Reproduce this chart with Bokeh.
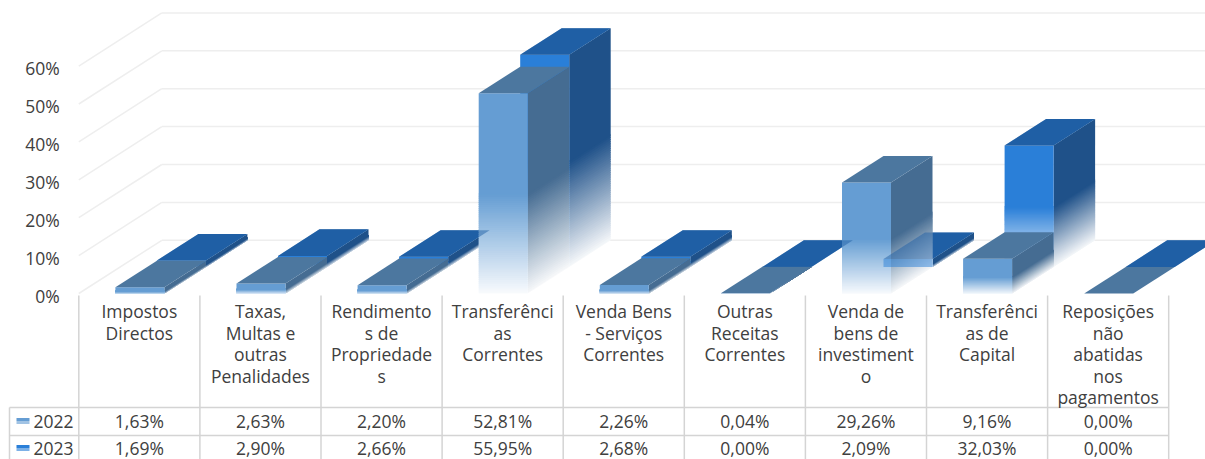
from bokeh.plotting import figure
from bokeh.models import ColumnDataSource, FixedTicker, Range1d
from bokeh.core.properties import value
from bokeh.embed import file_html
from bokeh.resources import INLINE

categories = ["Impostos\nDirectos", "Taxas,\nMultas e\noutras\nPenalidades",
              "Rendimento\ns de\nPropriedade\ns", "Transferênci\nas\nCorrentes",
              "Venda Bens\n- Serviços\nCorrentes", "Outras\nReceitas\nCorrentes",
              "Venda de\nbens de\ninvestiment\no", "Transferênci\nas de\nCapital",
              "Reposições\nnão\nabatidas\nnos\npagamentos"]
series_2022 = [1.63, 2.63, 2.20, 52.81, 2.26, 0.04, 29.26, 9.16, 0.00]
series_2023 = [1.69, 2.90, 2.66, 55.95, 2.68, 0.00, 2.09, 32.03, 0.00]
labels_2022 = ["1,63%", "2,63%", "2,20%", "52,81%", "2,26%", "0,04%", "29,26%", "9,16%", "0,00%"]
labels_2023 = ["1,69%", "2,90%", "2,66%", "55,95%", "2,68%", "0,00%", "2,09%", "32,03%", "0,00%"]
y_ticks = [0, 10, 20, 30, 40, 50, 60]
y_tick_labels = ["0%", "10%", "20%", "30%", "40%", "50%", "60%"]
series_names = ["2022", "2023"]

W, H = 1205, 459
X0, CELL = 78.3, 121.1      # page px of first cell edge, cell width
Y0, UNIT = 293.0, 3.79      # page px of 0%, px per 1%
FONT = "Open Sans"
TXT = "#404040"
FS = "17.5px"

def xv(px):
    return (px - X0) / CELL

def yv(py):
    return (Y0 - py) / UNIT

BAR_L = 36.6 / CELL
BAR_W = 49.0 / CELL
DX = 41.5 / CELL
DY = 26.6 / UNIT
OVER = 0.3

COL = {"2022": dict(front=(101, 157, 211), side=(69, 108, 146), top=(76, 119, 159)),
       "2023": dict(front=(42, 127, 216), side=(31, 81, 137), top=(31, 95, 165))}


def hexc(c):
    return "#%02x%02x%02x" % tuple(int(round(v)) for v in c)


def fade(c, t):
    t = 0.03 + 0.97 * max(0.0, min(1.0, t))
    return hexc([255 + (v - 255) * t for v in c])


def bar_polys(i, val, s, cols):
    """front, side, top polygons of one 3-D bar, value-driven, in painter's order"""
    out = []
    xa = i + BAR_L + s * DX
    xb = xa + BAR_W
    base = s * DY
    N = 48
    solid = None
    if val > 0:
        knee = val * 0.5
        for k in range(N):
            h0, h1 = knee * k / N, knee * (k + 1) / N
            lo = max(0.0, h0 - OVER)
            out.append(([xb, xb + DX, xb + DX, xb],
                        [base + lo, base + lo + DY, base + h1 + DY, base + h1],
                        fade(cols["side"], (k + 0.5) / N)))
        k0 = max(0.0, knee - OVER)
        out.append(([xb, xb + DX, xb + DX, xb],
                    [base + k0, base + k0 + DY, base + val + DY, base + val],
                    hexc(cols["side"])))
        for k in range(N):
            h0, h1 = knee * k / N, knee * (k + 1) / N
            lo = max(0.0, h0 - OVER)
            out.append(([xa, xb, xb, xa], [base + lo, base + lo, base + h1, base + h1],
                        fade(cols["front"], (k + 0.5) / N)))
        out.append(([xa, xb, xb, xa], [base + k0, base + k0, base + val, base + val],
                    hexc(cols["front"])))
        solid = ([xa, xb, xb, xa], [base, base, base + val, base + val], hexc(cols["front"]))
    top = ([xa, xb, xb + DX, xa + DX],
           [base + val, base + val, base + val + DY, base + val + DY], hexc(cols["top"]))
    out.append(top)
    return out, top, solid


p = figure(width=W, height=H, output_backend="svg", toolbar_location=None,
           x_range=Range1d(xv(0), xv(W)), y_range=Range1d(yv(H), yv(0)),
           x_axis_location=None, min_border=0, outline_line_color=None,
           background_fill_color="white", border_fill_color="white")
p.grid.visible = False

# y axis sits on the chart's front-left corner; its labels hang 2px below the floor line
p.extra_y_ranges = {"ticks": Range1d(yv(H - 2), yv(-2))}
ax = p.yaxis[0]
ax.y_range_name = "ticks"
ax.fixed_location = 0
ax.ticker = FixedTicker(ticks=y_ticks)
ax.major_label_overrides = {t: l for t, l in zip(y_ticks, y_tick_labels)}
ax.axis_line_color = None
ax.major_tick_line_color = None
ax.minor_tick_line_color = None
ax.major_label_standoff = 13
ax.major_label_text_font = FONT
ax.major_label_text_font_size = FS
ax.major_label_text_color = TXT

# walls
WALL = "#eeeeee"
WALL_DEPTH = 2 * DY
p.segment(x0=[0] * len(y_ticks), y0=y_ticks, x1=[2 * DX] * len(y_ticks),
          y1=[t + WALL_DEPTH for t in y_ticks], line_color=WALL, line_width=1.5)
p.segment(x0=[2 * DX] * len(y_ticks), y0=[t + WALL_DEPTH for t in y_ticks],
          x1=[xv(W)] * len(y_ticks), y1=[t + WALL_DEPTH for t in y_ticks],
          line_color=WALL, line_width=1.5)

# bars: back series first, then front series
xs, ys, fills = [], [], []
ghost_x, ghost_y, ghost_c = [], [], []
for i, v in enumerate(series_2023):
    polys, top, solid = bar_polys(i, v, 1, COL["2023"])
    for a, b, c in polys:
        xs.append(a); ys.append(b); fills.append(c)
    ghost_x.append(top[0]); ghost_y.append(top[1]); ghost_c.append(top[2])
    if solid is not None and v < 5 and series_2022[i] > 5 * v:
        ghost_x.append(solid[0]); ghost_y.append(solid[1]); ghost_c.append(solid[2])
for i, v in enumerate(series_2022):
    polys, _, _ = bar_polys(i, v, 0, COL["2022"])
    for a, b, c in polys:
        xs.append(a); ys.append(b); fills.append(c)
p.patches(xs="xs", ys="ys", fill_color="c", line_color=None,
          source=ColumnDataSource(dict(xs=xs, ys=ys, c=fills)))
# the front series is partly see-through
p.patches(xs="xs", ys="ys", fill_color="c", fill_alpha=0.5, line_color=None,
          source=ColumnDataSource(dict(xs=ghost_x, ys=ghost_y, c=ghost_c)))

# data table
GRID = "#d4d4d4"
n = len(categories)
p.segment(x0=list(range(n + 1)), x1=list(range(n + 1)), y0=[yv(295)] * (n + 1),
          y1=[yv(H)] * (n + 1), line_color=GRID, line_width=1.5)
row_lines = [407, 435]
p.segment(x0=[xv(9)] * 2, x1=[n] * 2, y0=[yv(r) for r in row_lines],
          y1=[yv(r) for r in row_lines], line_color=GRID, line_width=1.5)
p.segment(x0=[xv(9)], x1=[xv(9)], y0=[yv(407)], y1=[yv(H)], line_color=GRID, line_width=1.5)

tx, ty, tt = [], [], []
for i, c in enumerate(categories):
    for j, line in enumerate(c.split("\n")):
        tx.append(i + 0.5); ty.append(yv(310.5 + 21.6 * j)); tt.append(line)
for i, l in enumerate(labels_2022):
    tx.append(i + 0.5); ty.append(yv(420.5)); tt.append(l)
for i, l in enumerate(labels_2023):
    tx.append(i + 0.5); ty.append(yv(447.5)); tt.append(l)
p.text(x=tx, y=ty, text=tt, text_font=value(FONT), text_font_size=value(FS),
       text_color=TXT, text_align="center", text_baseline="middle")
p.text(x=[xv(33)] * 2, y=[yv(420.5), yv(447.5)], text=series_names, text_font=value(FONT),
       text_font_size=value(FS), text_color=TXT, text_align="left", text_baseline="middle")

# legend keys
for name, yc in zip(series_names, (420.5, 447.5)):
    c = COL[name]["front"]
    p.quad(left=[xv(16)], right=[xv(29)], top=[yv(yc - 3)], bottom=[yv(yc)],
           fill_color=hexc(c), line_color=None)
    p.quad(left=[xv(16)], right=[xv(29)], top=[yv(yc)], bottom=[yv(yc + 3)],
           fill_color=fade(c, 0.6), line_color=None)

open("out.html", "w").write(file_html(p, INLINE))
